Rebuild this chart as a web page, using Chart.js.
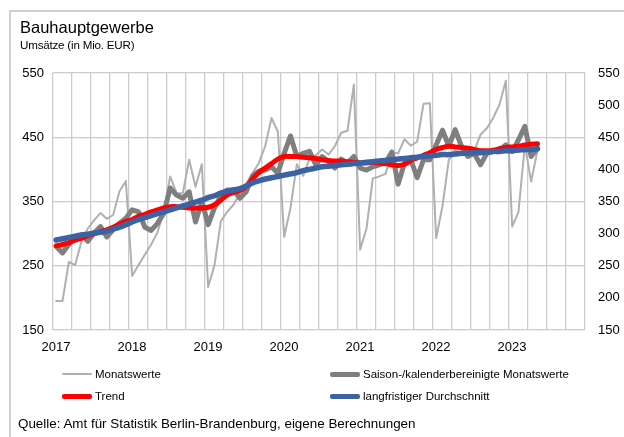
<!DOCTYPE html>
<html lang="de">
<head>
<meta charset="UTF-8">
<title>Bauhauptgewerbe</title>
<script src="https://cdn.jsdelivr.net/npm/chart.js"></script>
<style>
  html, body { margin: 0; padding: 0; background: #fff; }
  body { width: 624px; height: 437px; position: relative; overflow: hidden;
         font-family: "Liberation Sans", Arial, sans-serif; color: #000; }
  .frame { position: absolute; left: 9px; top: 10px; width: 640px; height: 460px;
           border-top: 2px solid #cfcfcf; border-left: 2px solid #cfcfcf; }
  #chart { position: absolute; left: 0; top: 0; }
  .title { position: absolute; left: 20px; top: 18px; font-size: 16.5px; white-space: nowrap; }
  .subtitle { position: absolute; left: 20px; top: 38px; font-size: 11.6px; white-space: nowrap; letter-spacing: -0.2px; }
  .legend-item { position: absolute; font-size: 11.5px; white-space: nowrap; display: flex; align-items: center; }
  .legend-item i { display: inline-block; width: 30px; margin-right: 3px; border-radius: 2px; }
  .source { position: absolute; left: 18px; top: 416px; font-size: 13.4px; white-space: nowrap; }
</style>
</head>
<body>
  <div class="frame"></div>
  <canvas id="chart" width="624" height="437"></canvas>
  <div class="title">Bauhauptgewerbe</div>
  <div class="subtitle">Umsätze (in Mio. EUR)</div>

  <div class="legend-item" style="left:62px; top:368px;"><i style="height:2px; background:#b0b0b0;"></i>Monatswerte</div>
  <div class="legend-item" style="left:330px; top:368px;"><i style="height:5px; background:#7f7f7f;"></i>Saison-/kalenderbereinigte Monatswerte</div>
  <div class="legend-item" style="left:62px; top:390px;"><i style="height:5px; background:#ff0000;"></i>Trend</div>
  <div class="legend-item" style="left:330px; top:390px;"><i style="height:5px; background:#3c62a3;"></i>langfristiger Durchschnitt</div>

  <div class="source">Quelle: Amt für Statistik Berlin-Brandenburg, eigene Berechnungen</div>

<script>
// Monatsdaten ab Januar 2017 (bis Mai 2023)
const startYear = 2017;
const yearLabels = [2017, 2018, 2019, 2020, 2021, 2022, 2023];
const leftTicks = [150, 250, 350, 450, 550];
const rightTicks = [150, 200, 250, 300, 350, 400, 450, 500, 550];

const monatswerte = [
  195, 195, 256, 251, 288, 308, 321, 332, 323, 329, 366, 382,
  234, 251, 267, 283, 302, 335, 389, 363, 363, 415, 373, 408,
  217, 251, 319, 334, 345, 363, 378, 394, 410, 436, 480, 459,
  295, 340, 408, 390, 416, 422, 431, 423, 436, 457, 460, 532,
  275, 308, 386, 389, 393, 426, 425, 447, 437, 443, 502, 503,
  293, 343, 415, 430, 425, 423, 428, 454, 464, 480, 501, 538,
  311, 334, 438, 381, 430
];

const saisonbereinigt = [
  280, 270, 283, 293, 298, 288, 301, 311, 295, 306, 316, 324,
  337, 334, 310, 305, 316, 332, 371, 360, 355, 365, 318, 350,
  314, 340, 359, 368, 368, 355, 365, 390, 397, 399, 404, 394,
  425, 452, 420, 425, 428, 407, 420, 412, 402, 416, 410, 420,
  402, 399, 404, 407, 410, 427, 377, 410, 415, 387, 415, 415,
  438, 461, 436, 462, 436, 420, 425, 407, 425, 428, 430, 438,
  428, 446, 467, 420, 433
];

const trend = [
  281, 283, 286, 290, 293, 297, 300, 303, 306, 310, 315, 319,
  322, 327, 330, 334, 337, 340, 342, 342, 341, 340, 340, 340,
  341, 345, 352, 360, 364, 367, 373, 385, 395, 402, 409, 416,
  420, 420, 420, 419, 418, 417, 415, 414, 413, 413, 412, 411,
  410, 410, 411, 410, 409, 407, 406, 408, 414, 418, 422, 426,
  431, 434, 436, 435, 434, 433, 431, 429, 429, 430, 432, 434,
  435, 436, 438, 439, 440
];

const durchschnitt = [
  290, 292, 294, 296, 298, 299, 301, 302, 304, 307, 310, 314,
  318, 322, 325, 328, 331, 334, 337, 340, 343, 346, 349, 352,
  356, 359, 363, 366, 368, 370, 374, 379, 382, 385, 387, 389,
  391, 393, 395, 398, 400, 402, 404, 405, 406, 407, 408, 409,
  410, 411, 412, 413, 414, 415, 416, 417, 418, 419, 420, 421,
  422, 423, 423, 424, 425, 425, 426, 426, 427, 428, 428, 429,
  429, 430, 431, 431, 432
];

// Punkt in der Mitte des jeweiligen Monats
function toPoints(values) {
  return values.map((v, i) => ({ x: i + 0.5, y: v }));
}

const tickFont = { family: '"Liberation Sans", Arial, sans-serif', size: 13 };
const gridColor = '#cccccc';

new Chart(document.getElementById('chart'), {
  type: 'line',
  data: {
    datasets: [
      { label: 'Monatswerte', data: toPoints(monatswerte), borderColor: '#b0b0b0', borderWidth: 2, order: 4 },
      { label: 'Saison-/kalenderbereinigte Monatswerte', data: toPoints(saisonbereinigt), borderColor: '#7f7f7f', borderWidth: 5, order: 3 },
      { label: 'Trend', data: toPoints(trend), borderColor: '#ff0000', borderWidth: 5, tension: 0.4, order: 2 },
      { label: 'langfristiger Durchschnitt', data: toPoints(durchschnitt), borderColor: '#3c62a3', borderWidth: 5.5, tension: 0.4, order: 1 }
    ]
  },
  options: {
    responsive: false,
    animation: false,
    events: [],
    layout: { padding: { top: 73, bottom: 81, left: 0, right: 0 } },
    elements: {
      point: { radius: 0 },
      line: { borderJoinStyle: 'round', borderCapStyle: 'round', fill: false }
    },
    plugins: { legend: { display: false }, tooltip: { enabled: false } },
    scales: {
      x: {
        type: 'linear', min: 0, max: yearLabels.length * 12,
        afterFit: (axis) => { axis.height = 26; },
        grid: { color: gridColor, lineWidth: 1.3, drawTicks: false },
        border: { display: false },
        ticks: {
          stepSize: 3, autoSkip: false, maxRotation: 0, padding: 10, labelOffset: 3,
          color: '#000', font: tickFont,
          callback: (v) => (v % 12 === 0 && v / 12 < yearLabels.length) ? String(startYear + v / 12) : ''
        }
      },
      y: {
        position: 'left', min: leftTicks[0], max: leftTicks[leftTicks.length - 1],
        afterFit: (axis) => { axis.width = 53; },
        afterBuildTicks: (axis) => { axis.ticks = leftTicks.map(v => ({ value: v })); },
        grid: { color: gridColor, lineWidth: 1.3, drawTicks: false },
        border: { display: false },
        ticks: { padding: 9, color: '#000', font: tickFont }
      },
      y2: {
        position: 'right', min: rightTicks[0], max: rightTicks[rightTicks.length - 1],
        afterFit: (axis) => { axis.width = 39; },
        afterBuildTicks: (axis) => { axis.ticks = rightTicks.map(v => ({ value: v })); },
        grid: { display: false, drawTicks: false },
        border: { display: false },
        ticks: { padding: 13, color: '#000', font: tickFont }
      }
    }
  }
});
</script>
</body>
</html>
